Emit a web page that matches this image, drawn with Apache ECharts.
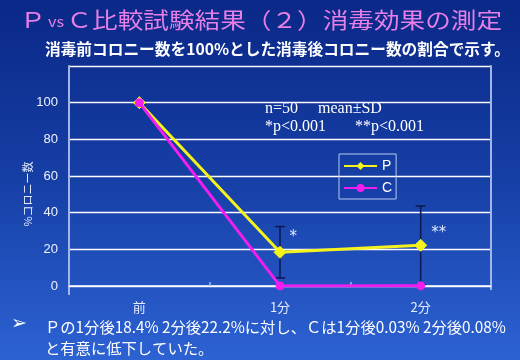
<!DOCTYPE html>
<html>
<head>
<meta charset="utf-8">
<script src="https://cdn.jsdelivr.net/npm/echarts@6/dist/echarts.min.js"></script>
<style>html,body{margin:0;padding:0;}#c{width:520px;height:360px;}</style>
</head>
<body>
<div id="c"></div>
<script>
const categories = ['前', '1分', '2分'];
const pValues = [100, 18.4, 22.2];
const cValues = [100, 0.03, 0.08];
const pSD = [0, 14, 21.4];
const sigLabels = ['', '*', '**'];
const yTicks = [0, 20, 40, 60, 80, 100];

const errData = [];
pValues.forEach((v, i) => { if (pSD[i] > 0) errData.push([i, Math.max(0, v - pSD[i]), v + pSD[i]]); });

const sigOffsets = [[0, 0], [-2, -15], [-1, -12]];

const chart = echarts.init(document.getElementById('c'));
const jp = '"Noto Sans CJK JP", "DejaVu Sans", sans-serif';
chart.setOption({
  backgroundColor: {
    type: 'linear', x: 0, y: 0, x2: 0, y2: 1,
    colorStops: [{ offset: 0, color: '#0a2887' }, { offset: 0.5, color: '#163fa6' }, { offset: 1, color: '#2d62d3' }]
  },
  animation: false,
  grid: { left: 69, right: 29, top: 66, bottom: 74 },
  legend: {
    orient: 'vertical', left: 339, top: 154,
    data: ['P', 'C'],
    borderColor: '#b8c8f0', borderWidth: 1, padding: [5, 4, 4, 4],
    itemWidth: 33, itemHeight: 10, itemGap: 8,
    textStyle: { color: '#ffffff', fontSize: 14, fontFamily: 'Liberation Sans' }
  },
  xAxis: {
    type: 'category', data: categories, boundaryGap: true,
    axisLine: { lineStyle: { color: '#ffffff', width: 1.5 } },
    axisTick: { show: true, inside: true, length: 4, lineStyle: { color: '#a8bce8', width: 1.5 } },
    axisLabel: { color: '#e4ecff', fontSize: 13, fontFamily: jp, margin: 15 }
  },
  yAxis: [{
    type: 'value', min: 0, max: 120, interval: 20,
    name: '%コロニー数', nameLocation: 'middle', nameGap: 36, nameMoveOverlap: false,
    nameTextStyle: { color: '#e4ecff', fontSize: 11, fontFamily: jp, padding: [0, 36, 0, 0] },
    axisLine: { show: true, lineStyle: { color: '#a0b6e8', width: 2 } },
    axisTick: { show: false },
    axisLabel: {
      color: '#eef2ff', fontSize: 13, fontFamily: 'Liberation Sans', margin: 11,
      formatter: v => (yTicks.indexOf(v) >= 0 ? String(v) : '')
    },
    splitLine: { lineStyle: { color: '#ffffff', width: 1.3 } }
  }, {
    type: 'value', min: 0, max: 120, interval: 20, position: 'right',
    axisLine: { show: true, lineStyle: { color: '#a0b6e8', width: 2 } },
    axisTick: { show: false }, axisLabel: { show: false }, splitLine: { show: false }
  }],
  series: [
    {
      type: 'custom', name: 'SD', data: errData, z: 1,
      encode: { x: 0, y: [1, 2] },
      renderItem: function (params, api) {
        const xi = api.value(0);
        const lo = api.coord([xi, api.value(1)]);
        const hi = api.coord([xi, api.value(2)]);
        const w = 5;
        const st = { stroke: '#0b1a55', lineWidth: 1.6 };
        return {
          type: 'group', children: [
            { type: 'line', shape: { x1: lo[0], y1: lo[1], x2: hi[0], y2: hi[1] }, style: st },
            { type: 'line', shape: { x1: hi[0] - w, y1: hi[1], x2: hi[0] + w, y2: hi[1] }, style: st },
            { type: 'line', shape: { x1: lo[0] - w, y1: lo[1], x2: lo[0] + w, y2: lo[1] }, style: st }
          ]
        };
      }
    },
    {
      type: 'line', name: 'P', z: 3,
      data: pValues.map((v, i) => ({
        value: v,
        label: {
          show: sigLabels[i] !== '', formatter: sigLabels[i], position: 'right',
          offset: sigOffsets[i], color: '#dfe8ff', fontSize: 15, fontFamily: 'DejaVu Sans'
        }
      })),
      symbol: 'diamond', symbolSize: 12,
      lineStyle: { color: '#f4f41c', width: 3 },
      itemStyle: { color: '#f4f41c', borderColor: '#f4f41c' }
    },
    {
      type: 'line', name: 'C', data: cValues, z: 4,
      symbol: 'circle', symbolSize: 8,
      lineStyle: { color: '#f21ef0', width: 3 },
      itemStyle: { color: '#f21ef0', borderColor: '#f21ef0' }
    }
  ],
  graphic: [
    {
      type: 'text', left: 20, top: 9, scaleX: 1.165,
      style: {
        text: '{b|Ｐ}{s|vs}{b|Ｃ比較試験結果（２）消毒効果の測定}',
        rich: {
          b: { fontSize: 22, fontFamily: jp, fill: '#e77fe6' },
          s: { fontSize: 14, fontFamily: jp, fill: '#e77fe6', padding: [4, 2, 0, 2] }
        }
      }
    },
    {
      type: 'text', left: 45, top: 41,
      style: { text: '消毒前コロニー数を100%とした消毒後コロニー数の割合で示す。', font: 'bold 15.7px ' + jp, fill: '#ffffff' }
    },
    { type: 'text', left: 265, top: 101, style: { text: 'n=50', font: '16px "Liberation Serif"', fill: '#ffffff' } },
    { type: 'text', left: 318, top: 101, style: { text: 'mean±SD', font: '16px "Liberation Serif"', fill: '#ffffff' } },
    { type: 'text', left: 265, top: 119, style: { text: '*p<0.001', font: '16px "Liberation Serif"', fill: '#ffffff' } },
    { type: 'text', left: 355, top: 119, style: { text: '**p<0.001', font: '16px "Liberation Serif"', fill: '#ffffff' } },
    { type: 'line', shape: { x1: 69, y1: 286, x2: 69, y2: 295 }, style: { stroke: '#a0b6e8', lineWidth: 2 } },
    { type: 'line', shape: { x1: 491, y1: 286, x2: 491, y2: 290 }, style: { stroke: '#a0b6e8', lineWidth: 2 } },
    { type: 'text', left: 11, top: 315, style: { text: '➢', font: '19px "DejaVu Sans"', fill: '#ffffff' } },
    {
      type: 'text', left: 45, top: 317,
      style: { text: 'Ｐの1分後18.4% 2分後22.2%に対し、Ｃは1分後0.03% 2分後0.08%\nと有意に低下していた。', font: '15.3px ' + jp, fill: '#ffffff', lineHeight: 21 }
    }
  ]
});
</script>
</body>
</html>
